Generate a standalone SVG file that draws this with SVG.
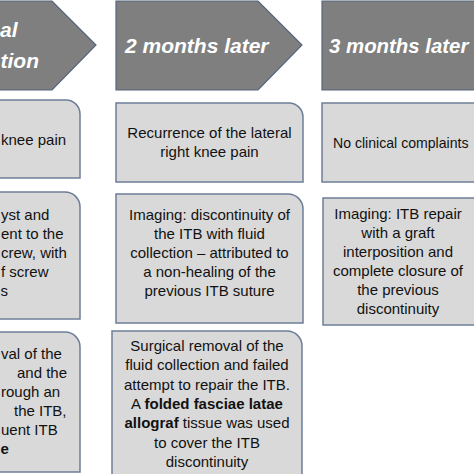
<svg xmlns="http://www.w3.org/2000/svg" width="474" height="474" viewBox="0 0 474 474">
<style>
.hdr{fill:#7f7f7f;stroke:#55657d;stroke-width:1.2}
.box{fill:#d9d9d9;stroke:#6e7e98;stroke-width:1.5}
.ht{font-family:"Liberation Sans",Arial,sans-serif;font-weight:bold;font-style:italic;font-size:21px;fill:#ffffff}
.t{font-family:"Liberation Sans",Arial,sans-serif;font-size:15px;fill:#111111}
.c{text-anchor:middle}
.e{text-anchor:end}
.b{font-weight:bold}
</style>
<rect x="0" y="0" width="474" height="474" fill="#ffffff"/>
<g id="header1">
<path class="hdr" d="M -120 1 H 52 L 96 45 L 52 90 H -120 Z"/>
<text class="ht" x="0" y="37">al</text>
<text class="ht" x="0.5" y="68">tion</text>
</g>
<g id="header2">
<path class="hdr" d="M 116 1 H 258 L 302 45 L 258 90 H 116 Z"/>
<text class="ht" x="125" y="52.5">2 months later</text>
</g>
<g id="header3">
<path class="hdr" d="M 322 1 H 560 V 90 H 322 Z"/>
<text class="ht" x="329" y="52.5" style="font-size:20.4px">3 months later</text>
</g>
<g id="c1b1">
<path class="box" d="M -120 100 H 66 A 14 14 0 0 1 80 114 V 178 H -120 Z"/>
<text class="t" x="1" y="145">knee pain</text>
</g>
<g id="c1b2">
<path class="box" d="M -120 192 H 65 A 15 15 0 0 1 80 207 V 319 H -120 Z"/>
<text class="t" x="1" y="220">yst and</text>
<text class="t" x="1" y="239">ent to the</text>
<text class="t" x="1" y="258">crew, with</text>
<text class="t" x="1" y="277">f screw</text>
<text class="t" x="0.5" y="296">s</text>
</g>
<g id="c1b3">
<path class="box" d="M -120 332 H 65 A 15 15 0 0 1 80 347 V 472 H -120 Z"/>
<text class="t" x="1" y="359">val of the</text>
<text class="t" x="17" y="378">and the</text>
<text class="t" x="1" y="397">rough an</text>
<text class="t" x="14" y="416">the ITB,</text>
<text class="t" x="1" y="435">uent ITB</text>
<text class="t b" x="0.5" y="454">e</text>
</g>
<g id="c2b1">
<path class="box" d="M 116 103 H 289 A 14 14 0 0 1 303 117 V 182 H 116 Z"/>
<text class="t c" x="209.5" y="138">Recurrence of the lateral</text>
<text class="t c" x="209.5" y="157">right knee pain</text>
</g>
<g id="c2b2">
<path class="box" d="M 116 194 H 288 A 15 15 0 0 1 303 209 V 323 H 116 Z"/>
<text class="t c" x="209.5" y="220">Imaging: discontinuity of</text>
<text class="t c" x="209.5" y="239">the ITB with fluid</text>
<text class="t c" x="209.5" y="258">collection – attributed to</text>
<text class="t c" x="209.5" y="277">a non-healing of the</text>
<text class="t c" x="209.5" y="296">previous ITB suture</text>
</g>
<g id="c2b3">
<path class="box" d="M 112 331 H 287 A 15 15 0 0 1 302 346 V 480 H 112 Z"/>
<text class="t c" x="207" y="351">Surgical removal of the</text>
<text class="t c" x="207" y="370.3">fluid collection and failed</text>
<text class="t c" x="207" y="389.6">attempt to repair the ITB.</text>
<text class="t c" x="207" y="409">A <tspan class="b">folded fasciae latae</tspan></text>
<text class="t c" x="207" y="428"><tspan class="b">allograf</tspan> tissue was used</text>
<text class="t c" x="207" y="447.5">to cover the ITB</text>
<text class="t c" x="207" y="467">discontinuity</text>
</g>
<g id="c3b1">
<rect class="box" x="322" y="103" width="220" height="79"/>
<text class="t" x="333" y="148" style="font-size:14.1px">No clinical complaints</text>
</g>
<g id="c3b2">
<rect class="box" x="323" y="198" width="220" height="127"/>
<text class="t c" x="398" y="219">Imaging: ITB repair</text>
<text class="t c" x="398" y="238">with a graft</text>
<text class="t c" x="398" y="257">interposition and</text>
<text class="t c" x="398" y="276">complete closure of</text>
<text class="t c" x="398" y="295">the previous</text>
<text class="t c" x="398" y="314">discontinuity</text>
</g>
<g id="connectors"></g>
</svg>
